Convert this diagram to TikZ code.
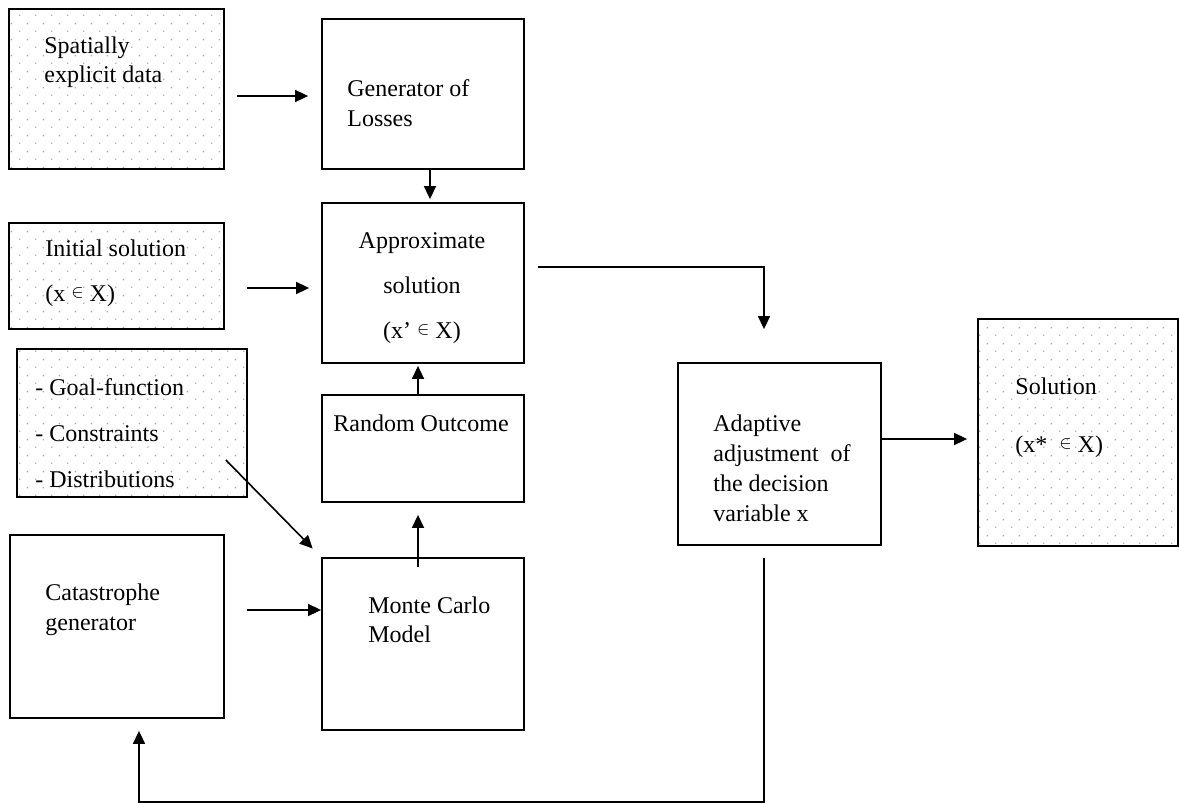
\documentclass[tikz,border=0pt]{standalone}
\usepackage{fontspec}
\setmainfont{Liberation Serif}
\usepackage{tikz}
\usetikzlibrary{arrows.meta,patterns,calc}

\pgfdeclarepatternformonly{sparsedots}{\pgfpointorigin}{\pgfqpoint{8pt}{8pt}}{\pgfqpoint{8pt}{8pt}}{%
  \pgfpathcircle{\pgfqpoint{2pt}{2pt}}{0.5pt}%
  \pgfpathcircle{\pgfqpoint{6pt}{6pt}}{0.5pt}%
  \pgfusepath{fill}}
\newcommand{\elem}{\raisebox{2pt}{\small$\in$}}

\begin{document}
\begin{tikzpicture}[x=0.5pt,y=-0.5pt,
  box/.style={draw,line width=0.9pt,inner sep=0pt},
  dotbox/.style={box,pattern=sparsedots,pattern color=gray!60},
  txt/.style={anchor=west,align=left,inner sep=0pt,font=\fontsize{12}{14.5}\selectfont},
  arr/.style={line width=0.8pt,-{Triangle[length=6.5pt,width=6pt]}}]
\useasboundingbox (0,0) rectangle (1179,803);

\node[dotbox,minimum width=107.5pt,minimum height=80pt] (spatial) at (116.5,89) {};
\node[txt] (spatialtxt) at (44,62.5) {Spatially\\explicit data};
\node[box,minimum width=101pt,minimum height=75pt] (gen) at (423,94) {};
\node[txt,font=\fontsize{12}{15}\selectfont] (gentxt) at (347,103) {Generator of\\Losses};
\node[box,minimum width=101pt,minimum height=80pt] (approx) at (423,283) {};
\node[txt,anchor=center,align=center,font=\fontsize{12}{22.5}\selectfont] (approxtxt) at (422,288) {Approximate\\solution\\(x’ \elem\ X)};
\node[dotbox,minimum width=107.5pt,minimum height=53pt] (init) at (116.5,276) {};
\node[txt,font=\fontsize{12}{22.5}\selectfont] (inittxt) at (45,273.5) {Initial solution\\(x \elem\ X)};
\node[dotbox,minimum width=115pt,minimum height=74pt] (goals) at (132,423) {};
\node[txt,font=\fontsize{12}{23}\selectfont] (goalstxt) at (35,433) {- Goal-function\\- Constraints\\- Distributions};
\node[box,minimum width=101pt,minimum height=53.5pt] (random) at (423,448.5) {};
\node[txt,anchor=center] (randomtxt) at (421,423) {Random Outcome};
\node[box,minimum width=107pt,minimum height=91.5pt] (cat) at (117,626.5) {};
\node[txt,font=\fontsize{12}{15}\selectfont] (cattxt) at (45,610) {Catastrophe\\generator};
\node[box,minimum width=101pt,minimum height=86pt] (mc) at (423,644) {};
\node[txt] (mctxt) at (368,619.5) {Monte Carlo\\Model};
\node[box,minimum width=101.5pt,minimum height=91pt] (adapt) at (779.5,454) {};
\node[txt,font=\fontsize{12}{15}\selectfont] (adapttxt) at (713,468) {Adaptive\\adjustment~ of\\the decision\\variable x};
\node[dotbox,minimum width=100pt,minimum height=113.5pt] (sol) at (1078,432.5) {};
\node[txt,font=\fontsize{12}{29}\selectfont] (soltxt) at (1015,418) {Solution\\(x* \ \elem\ X)};
\coordinate (loop) at (139,802);

\draw[arr,shorten <=6pt,shorten >=6.5pt] ([yshift=-3.5pt]spatial.east) -- ([yshift=-3.5pt]spatial.east -| gen.west);
\draw[arr,shorten >=1.5pt] ([xshift=3.5pt]gen.south) -- ([xshift=3.5pt]approx.north);
\draw[arr,shorten <=11pt,shorten >=6pt] ([yshift=-6pt]init.east) -- ([yshift=-6pt]init.east -| approx.west);
\draw[arr,shorten >=1pt] ([xshift=-2.5pt]random.north) -- ([xshift=-2.5pt]approx.south);
\draw[arr,shorten <=-5pt,shorten >=6pt] ([xshift=-2.5pt]mc.north) -- ([xshift=-2.5pt]random.south);
\draw[arr,shorten >=6pt] ([xshift=-11pt,yshift=-18.5pt]goals.east) -- (mc.north west);
\draw[arr,shorten <=11pt] ([yshift=8.25pt]cat.east) -- ([yshift=8.25pt]cat.east -| mc.west);
\draw[arr,shorten >=16.5pt] ([xshift=6.5pt,yshift=8pt]approx.east) -| ([xshift=-7.75pt]adapt.north);
\draw[arr,shorten >=5pt] ([yshift=7.5pt]adapt.east) -- ([yshift=7.5pt]adapt.east -| sol.west);
\draw[arr,shorten <=6pt,shorten >=6pt] ([xshift=-7.75pt]adapt.south) |- (loop) -- (loop |- cat.south);
\end{tikzpicture}
\end{document}
